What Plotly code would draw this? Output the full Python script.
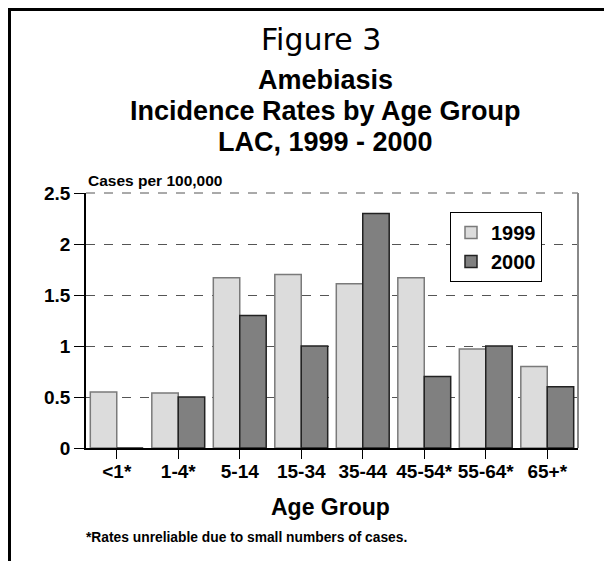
import plotly.graph_objects as go

categories = ["<1*", "1-4*", "5-14", "15-34", "35-44", "45-54*", "55-64*", "65+*"]
rates_1999 = [0.55, 0.54, 1.67, 1.70, 1.61, 1.67, 0.97, 0.80]
rates_2000 = [0.0, 0.50, 1.30, 1.00, 2.30, 0.70, 1.00, 0.60]
y_ticks = [0, 0.5, 1, 1.5, 2, 2.5]
y_tick_labels = ["0", "0.5", "1", "1.5", "2", "2.5"]

W, H = 612, 561
OFF = 8  # default page body margin
PL, PR, PT, PB = 86, 578, 193, 448  # plot area in page pixels
L, R, T, B = PL - OFF, W - (PR - OFF), PT - OFF, H - (PB - OFF)
PW, PH = PR - PL, PB - PT


def px(x):
    return (x - PL) / PW


def py(y):
    return (PB - y) / PH


ARIAL = "Arial, Liberation Sans, sans-serif"

fig = go.Figure()
fig.add_trace(go.Bar(
    x=categories, y=rates_1999, name="1999",
    marker=dict(color="#DCDCDC", line=dict(color="#7A7A7A", width=1.5)),
))
fig.add_trace(go.Bar(
    x=categories, y=rates_2000, name="2000",
    marker=dict(color="#808080", line=dict(color="#222222", width=1.5)),
))

fig.update_layout(
    width=W, height=H,
    margin=dict(l=L, r=R, t=T, b=B),
    paper_bgcolor="white", plot_bgcolor="white",
    barmode="group", bargap=0.14, bargroupgap=0,
    showlegend=True,
    legend=dict(
        x=px(450), y=py(212), xanchor="left", yanchor="top",
        bgcolor="white", bordercolor="black", borderwidth=1,
        font=dict(family=ARIAL, size=20, color="black", weight="bold"),
        itemwidth=30, tracegroupgap=0,
    ),
    font=dict(family=ARIAL, color="black"),
)

fig.update_xaxes(
    showline=True, linecolor="black", linewidth=1.5,
    ticks="outside", ticklen=9, tickcolor="black", tickwidth=1,
    ticklabelstandoff=-4,
    tickfont=dict(family=ARIAL, size=19, color="black", weight="bold"),
    showgrid=False, fixedrange=True,
)
fig.update_yaxes(
    range=[0, 2.5], tickvals=y_ticks, ticktext=y_tick_labels,
    showline=True, linecolor="black", linewidth=1.5,
    ticks="outside", ticklen=10, tickcolor="black", tickwidth=1,
    tickfont=dict(family=ARIAL, size=19, color="black", weight="bold"),
    showgrid=True, gridcolor="#555555", griddash="dash", gridwidth=1,
    zeroline=False, fixedrange=True,
)

shapes = [
    # top dashed gridline at 2.5
    dict(type="line", xref="paper", yref="paper", x0=0, x1=1, y0=1, y1=1,
         line=dict(color="#555555", width=1, dash="dash")),
    # right gray border of plot
    dict(type="line", xref="paper", yref="paper", x0=1, x1=1, y0=0, y1=1,
         line=dict(color="#888888", width=2)),
    # outer frame: top and left
    dict(type="line", xref="paper", yref="paper", x0=px(8), x1=px(640), y0=py(9.5), y1=py(9.5),
         line=dict(color="black", width=3)),
    dict(type="line", xref="paper", yref="paper", x0=px(9.5), x1=px(9.5), y0=py(8), y1=py(580),
         line=dict(color="black", width=3)),
]
fig.update_layout(shapes=shapes)

annotations = [
    dict(text="Figure 3", x=px(321), y=py(40), font=dict(family="DejaVu Sans", size=30, color="black")),
    dict(text="<b>Amebiasis</b>", x=px(325), y=py(80), font=dict(family=ARIAL, size=27, color="black")),
    dict(text="<b>Incidence Rates by Age Group</b>", x=px(325), y=py(111), font=dict(family=ARIAL, size=27, color="black")),
    dict(text="<b>LAC, 1999 - 2000</b>", x=px(325), y=py(142), font=dict(family=ARIAL, size=27, color="black")),
    dict(text="<b>Cases per 100,000</b>", x=px(86), y=py(180), xanchor="left", font=dict(family=ARIAL, size=15.5, color="black")),
    dict(text="<b>Age Group</b>", x=px(330), y=py(507), font=dict(family=ARIAL, size=23, color="black")),
    dict(text="<b>*Rates unreliable due to small numbers of cases.</b>", x=px(84), y=py(537), xanchor="left",
         font=dict(family=ARIAL, size=13.8, color="black")),
]
for a in annotations:
    a.setdefault("xanchor", "center")
    a.update(xref="paper", yref="paper", yanchor="middle", showarrow=False)
fig.update_layout(annotations=annotations)

fig.write_html("out.html")
